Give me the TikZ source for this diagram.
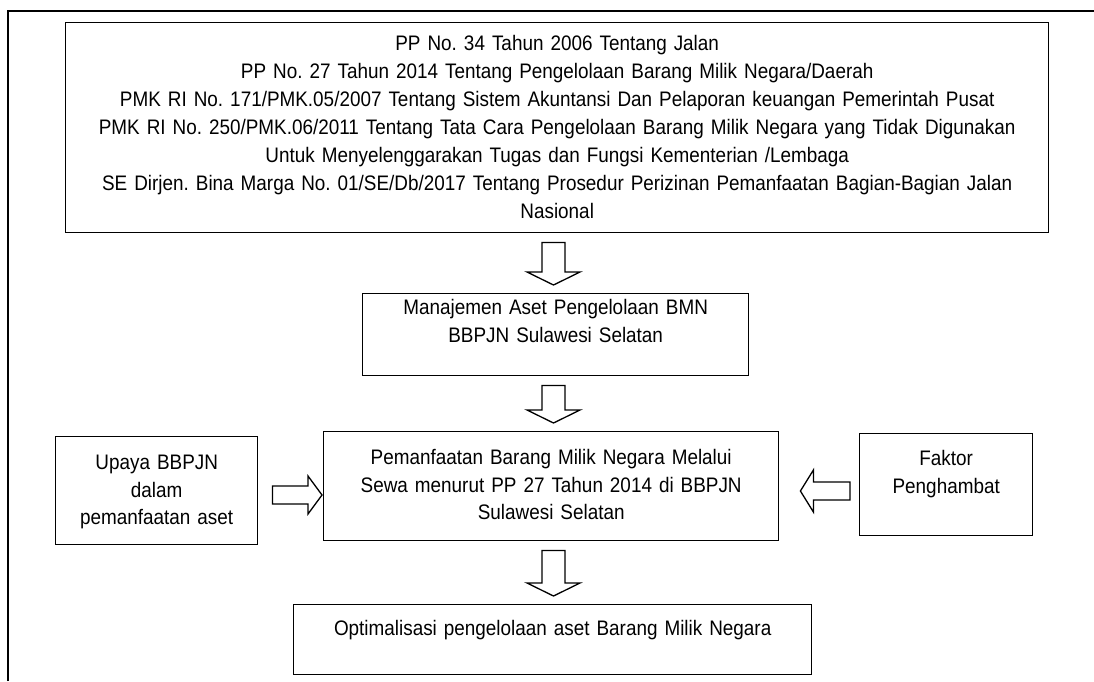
\documentclass[tikz,border=0pt]{standalone}
\usepackage{fontspec}
\setmainfont{Liberation Sans}[FakeStretch=0.9]
\usetikzlibrary{calc}
\frenchspacing

% block arrow pointing down, from the bottom of #1 to the top of #2
\newcommand{\turun}[2]{%
  \draw[blockarrow] let \p1=(#1.south), \p2=(#2.north) in
    (542pt,\y1-9pt) -- (542pt,\y2+21pt) -- (527pt,\y2+21pt) -- (553.5pt,\y2+8pt)
    -- (580pt,\y2+21pt) -- (565pt,\y2+21pt) -- (565pt,\y1-9pt) -- cycle;}

\begin{document}
\begin{tikzpicture}[x=1pt,y=-1pt,semithick]

    \tikzstyle{box}=[draw=black,line width=1.4pt,inner sep=0pt,anchor=north west,align=center,
                     font=\fontsize{21}{27.5}\selectfont]
    \tikzstyle{blockarrow}=[draw=black,line width=1.3pt,fill=white,line join=miter]

    \useasboundingbox (0,0) rectangle (1094,681);
    \draw[line width=2.2pt] (8,681) -- (8,11) -- (1094,11);

    \node[box,text width=983pt,text height=28pt,text depth=182pt,
          font=\fontsize{21}{28}\selectfont] (dasar) at (65,22)
      {PP No. 34 Tahun 2006 Tentang Jalan\\
       PP No. 27 Tahun 2014 Tentang Pengelolaan Barang Milik Negara/Daerah\\
       PMK RI No. 171/PMK.05/2007 Tentang Sistem Akuntansi Dan Pelaporan keuangan Pemerintah Pusat\\
       PMK RI No. 250/PMK.06/2011 Tentang Tata Cara Pengelolaan Barang Milik Negara yang Tidak Digunakan\\
       Untuk Menyelenggarakan Tugas dan Fungsi Kementerian /Lembaga\\
       SE Dirjen. Bina Marga No. 01/SE/Db/2017 Tentang Prosedur Perizinan Pemanfaatan Bagian-Bagian Jalan\\
       Nasional};
    \node[box,text width=386pt,text height=21pt,text depth=61pt] (manajemen) at (362,293)
      {Manajemen Aset Pengelolaan BMN\\BBPJN Sulawesi Selatan};
    \node[box,text width=455pt,text height=33pt,text depth=76pt] (sewa) at (323,431)
      {Pemanfaatan Barang Milik Negara Melalui\\Sewa menurut PP 27 Tahun 2014 di BBPJN\\Sulawesi Selatan};
    \node[box,text width=202pt,text height=33pt,text depth=75pt] (upaya) at (55,436)
      {Upaya BBPJN\\dalam\\pemanfaatan aset};
    \node[box,text width=173pt,text height=32pt,text depth=70pt] (faktor) at (859,433)
      {Faktor\\Penghambat};
    \node[box,text width=518pt,text height=31pt,text depth=39pt] (optimal) at (293,604)
      {Optimalisasi pengelolaan aset Barang Milik Negara};

    \turun{dasar}{manajemen}
    \turun{manajemen}{sewa}
    \turun{sewa}{optimal}

    % side arrows into the middle box
    \draw[blockarrow] let \p1=(upaya.east), \p2=(sewa.west), \p3=(0,495) in
      (\x1+14pt,\y3+9pt) -- (\x2-15pt,\y3+9pt) -- (\x2-15pt,\y3+19pt) -- (\x2-1pt,\y3)
      -- (\x2-15pt,\y3-19pt) -- (\x2-15pt,\y3-9pt) -- (\x1+14pt,\y3-9pt) -- cycle;
    \draw[blockarrow] let \p1=(faktor.west), \p2=(sewa.east), \p3=(0,491) in
      (\x1-9pt,\y3+9pt) -- (\x2+34pt,\y3+9pt) -- (\x2+34pt,\y3+21pt) -- (\x2+21pt,\y3)
      -- (\x2+34pt,\y3-21pt) -- (\x2+34pt,\y3-9pt) -- (\x1-9pt,\y3-9pt) -- cycle;
\end{tikzpicture}
\end{document}
